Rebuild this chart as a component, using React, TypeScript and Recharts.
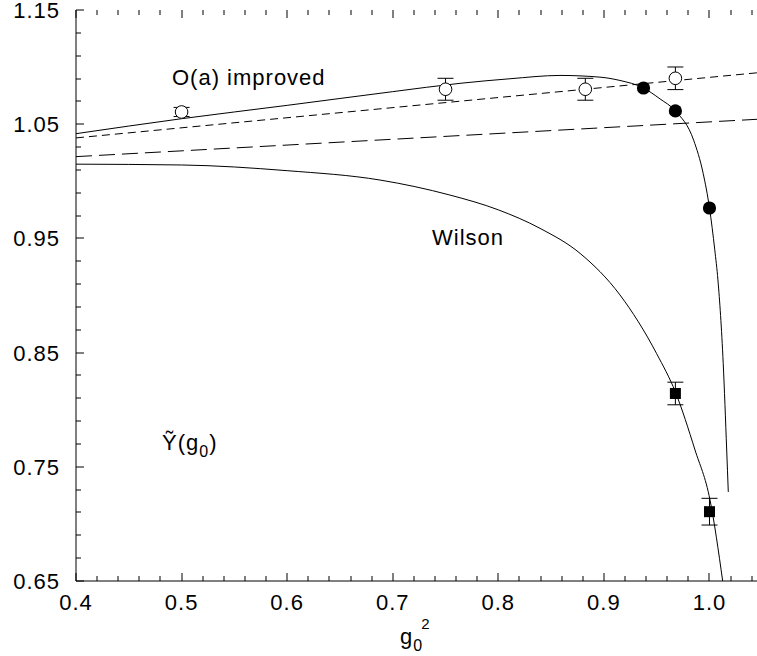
import React from 'react'
import { ComposedChart, Line, Scatter, ErrorBar, XAxis, YAxis } from 'recharts'

// open circles: O(a) improved data
const OPEN_X = [0.5, 0.75, 0.8824, 0.9677]
const OPEN_Y = [1.0607, 1.0806, 1.0806, 1.0902]
const OPEN_ERR = [0.004, 0.0096, 0.0096, 0.0099]

// filled circles
const FILLED_X = [0.9375, 0.9677, 1.0]
const FILLED_Y = [1.0817, 1.0616, 0.9766]

// filled squares: Wilson data
const SQUARE_X = [0.9677, 1.0]
const SQUARE_Y = [0.8142, 0.7107]
const SQUARE_ERR = [0.0099, 0.0117]

// solid curve through the improved points
const IMPROVED_X = [0.4, 0.5, 0.6, 0.7, 0.7637, 0.8111, 0.8584, 0.8963, 0.9152, 0.9375, 0.9531, 0.9677, 0.985, 0.994, 1.0, 1.005, 1.008, 1.013, 1.0163, 1.0178]
const IMPROVED_Y = [1.0417, 1.0548, 1.0665, 1.0785, 1.0858, 1.0898, 1.0927, 1.0912, 1.0883, 1.0817, 1.0722, 1.0616, 1.036, 1.007, 0.9766, 0.94, 0.9136, 0.8406, 0.7647, 0.728]

// solid Wilson curve
const WILSON_X = [0.4, 0.5, 0.6, 0.688, 0.754, 0.8, 0.8395, 0.8774, 0.9152, 0.95, 0.9677, 0.9863, 1.0005, 1.0125]
const WILSON_Y = [1.015, 1.0143, 1.0093, 1.0011, 0.988, 0.975, 0.9588, 0.9369, 0.9005, 0.849, 0.8155, 0.7647, 0.7209, 0.65]

// straight dashed lines
const SHORT_DASH_X = [0.4, 1.045]
const SHORT_DASH_Y = [1.038, 1.095]
const LONG_DASH_X = [0.4, 1.045]
const LONG_DASH_Y = [1.0216, 1.0543]

const X_LABELS = [0.4, 0.5, 0.6, 0.7, 0.8, 0.9, 1.0]
const Y_LABELS = [0.65, 0.75, 0.85, 0.95, 1.05, 1.15]

const X_DOMAIN: [number, number] = [0.4, 1.045]
const Y_DOMAIN: [number, number] = [0.65, 1.15]

// minor ticks every 0.02
const xTicks = Array.from({ length: 33 }, (_, i) => +(0.4 + i * 0.02).toFixed(2))
const yTicks = Array.from({ length: 26 }, (_, i) => +(0.65 + i * 0.02).toFixed(2))

const pairs = (xs: number[], ys: number[], errs?: number[]) =>
  xs.map((x, i) => ({ x, y: ys[i], err: errs ? errs[i] : 0 }))

const FONT = '"Liberation Sans", Arial, Helvetica, sans-serif'
const txt = { fontFamily: FONT, fontSize: 22, letterSpacing: 1, fill: '#000' }

const isLabel = (list: number[], v: number) => list.some((l) => Math.abs(l - v) < 1e-6)

// tick marks are scatter points sitting on the frame, drawn inward as thin rects
const BottomTick = (p: any) => {
  const v = p.payload.x
  const major = isLabel(X_LABELS, v)
  const len = major ? 8 : 5
  return (
    <g>
      <rect x={Math.round(p.cx) - 0.5} y={p.cy - len} width={1} height={len} fill="#000" />
      {major && (
        <text x={p.cx} y={p.cy + 29} textAnchor="middle" style={txt}>
          {v.toFixed(1)}
        </text>
      )}
    </g>
  )
}

const TopTick = (p: any) => {
  const len = isLabel(X_LABELS, p.payload.x) ? 8 : 5
  return <rect x={Math.round(p.cx) - 0.5} y={p.cy} width={1} height={len} fill="#000" />
}

const LeftTick = (p: any) => {
  const v = p.payload.y
  const major = isLabel(Y_LABELS, v)
  const len = major ? 8 : 5
  return (
    <g>
      <rect x={p.cx} y={Math.round(p.cy) - 0.5} width={len} height={1} fill="#000" />
      {major && (
        <text x={p.cx - 16} y={p.cy + 8} textAnchor="end" style={txt}>
          {v.toFixed(2)}
        </text>
      )}
    </g>
  )
}

const OpenCircle = (p: any) => <circle cx={p.cx} cy={p.cy} r={6.3} fill="#fff" stroke="#000" strokeWidth={1} />
const FilledCircle = (p: any) => <circle cx={p.cx} cy={p.cy} r={6.6} fill="#000" />
const FilledSquare = (p: any) => <rect x={p.cx - 5.5} y={p.cy - 5.5} width={11} height={11} fill="#000" />

const axisCommon = {
  type: 'number' as const,
  tick: false,
  tickLine: false,
  axisLine: { stroke: '#000', strokeWidth: 1 },
}

export default function App() {
  return (
    <div style={{ position: 'absolute', left: 0, top: 0, width: 757, height: 656, background: '#fff' }}>
      <ComposedChart width={757} height={656} margin={{ top: 10, right: 0, bottom: 0, left: 0 }}>
        <XAxis {...axisCommon} dataKey="x" domain={X_DOMAIN} height={75} />
        <XAxis {...axisCommon} xAxisId="top" orientation="top" dataKey="x" domain={X_DOMAIN} height={0} />
        <YAxis {...axisCommon} dataKey="y" domain={Y_DOMAIN} width={76} />

        <Scatter data={pairs(OPEN_X, OPEN_Y, OPEN_ERR)} dataKey="y" shape={OpenCircle} isAnimationActive={false}>
          <ErrorBar dataKey="err" direction="y" width={8} stroke="#000" strokeWidth={1} isAnimationActive={false} />
        </Scatter>
        <Scatter data={pairs(SQUARE_X, SQUARE_Y, SQUARE_ERR)} dataKey="y" shape={FilledSquare} isAnimationActive={false}>
          <ErrorBar dataKey="err" direction="y" width={8} stroke="#000" strokeWidth={1} isAnimationActive={false} />
        </Scatter>

        <Line data={pairs(IMPROVED_X, IMPROVED_Y)} dataKey="y" type="monotone" stroke="#000" strokeWidth={1} dot={false} activeDot={false} isAnimationActive={false} />
        <Line data={pairs(WILSON_X, WILSON_Y)} dataKey="y" type="monotone" stroke="#000" strokeWidth={1} dot={false} activeDot={false} isAnimationActive={false} />
        <Line data={pairs(SHORT_DASH_X, SHORT_DASH_Y)} dataKey="y" type="linear" stroke="#000" strokeWidth={1} strokeDasharray="8 5" dot={false} activeDot={false} isAnimationActive={false} />
        <Line data={pairs(LONG_DASH_X, LONG_DASH_Y)} dataKey="y" type="linear" stroke="#000" strokeWidth={1} strokeDasharray="16 7" dot={false} activeDot={false} isAnimationActive={false} />

        <Scatter data={pairs(FILLED_X, FILLED_Y)} dataKey="y" shape={FilledCircle} isAnimationActive={false} />

        <Scatter data={xTicks.map((x) => ({ x, y: Y_DOMAIN[0] }))} dataKey="y" shape={BottomTick} isAnimationActive={false} />
        <Scatter data={xTicks.map((x) => ({ x, y: Y_DOMAIN[1] }))} dataKey="y" shape={TopTick} isAnimationActive={false} />
        <Scatter data={yTicks.map((y) => ({ x: X_DOMAIN[0], y }))} dataKey="y" shape={LeftTick} isAnimationActive={false} />

        <text x={172} y={85} style={txt}>O(a) improved</text>
        <text x={432} y={245} style={txt}>Wilson</text>
        <text x={162} y={450} style={txt}>
          Ỹ(g<tspan fontSize={16} dy={7}>0</tspan>
          <tspan dy={-7}>)</tspan>
        </text>
        <text x={400} y={644} style={txt}>
          g<tspan fontSize={16} dy={7}>0</tspan>
          <tspan fontSize={15} dx={-2} dy={-22}>2</tspan>
        </text>
      </ComposedChart>
    </div>
  )
}
